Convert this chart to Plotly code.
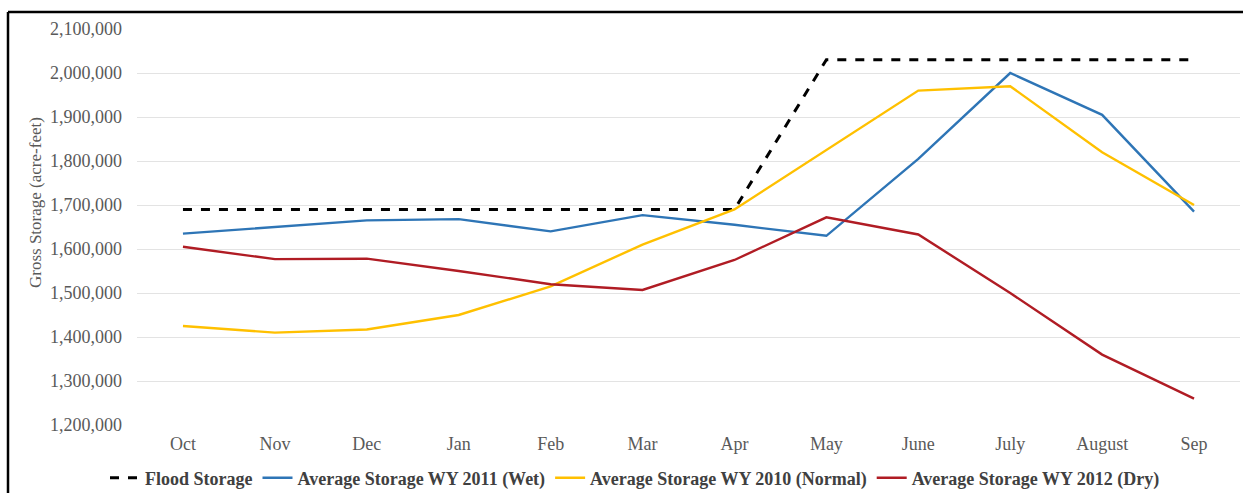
import plotly.graph_objects as go

months = ["Oct", "Nov", "Dec", "Jan", "Feb", "Mar", "Apr", "May", "June", "July", "August", "Sep"]
flood = [1690000, 1690000, 1690000, 1690000, 1690000, 1690000, 1690000,
         2030000, 2030000, 2030000, 2030000, 2030000]
wet_2011 = [1635000, 1650000, 1665000, 1668000, 1640000, 1677000, 1655000,
            1630000, 1805000, 2000000, 1905000, 1685000]
normal_2010 = [1425000, 1410000, 1417000, 1450000, 1515000, 1610000, 1690000,
               1825000, 1960000, 1970000, 1820000, 1700000]
dry_2012 = [1605000, 1577000, 1578000, 1550000, 1520000, 1507000, 1575000,
            1672000, 1633000, 1500000, 1360000, 1260000]
y_ticks = list(range(1200000, 2100001, 100000))

fig = go.Figure()
fig.add_trace(go.Scatter(x=months, y=flood, mode="lines", name="Flood Storage",
                         line=dict(color="#000000", width=3, dash="dash")))
fig.add_trace(go.Scatter(x=months, y=wet_2011, mode="lines", name="Average Storage WY 2011 (Wet)",
                         line=dict(color="#2E75B6", width=2.4)))
fig.add_trace(go.Scatter(x=months, y=normal_2010, mode="lines", name="Average Storage WY 2010 (Normal)",
                         line=dict(color="#FFC000", width=2.4)))
fig.add_trace(go.Scatter(x=months, y=dry_2012, mode="lines", name="Average Storage WY 2012 (Dry)",
                         line=dict(color="#B01C24", width=2.4)))

W, H = 1243, 493
ml, mr, mt, mb = 137, 3, 29, 68
pw = W - ml - mr
ph = H - mt - mb
bx = (8 - ml) / pw
by = 1 + (mt - 12) / ph
ybot = -(mb + 5) / ph
fig.add_shape(type="line", xref="paper", yref="paper", x0=bx, x1=1 + mr / pw + 0.01, y0=by, y1=by,
              line=dict(color="black", width=2.5))
fig.add_shape(type="line", xref="paper", yref="paper", x0=bx, x1=bx, y0=by, y1=ybot,
              line=dict(color="black", width=2.5))

# y-axis title placed as rotated annotation (matches reference position)
fig.add_annotation(text="Gross Storage (acre-feet)", textangle=-90, showarrow=False,
                   xref="paper", yref="paper", x=(35 - ml) / pw, y=(H - mb - 202) / ph,
                   xanchor="center", yanchor="middle",
                   font=dict(family="Liberation Serif, Times New Roman, serif", size=17, color="#595959"))

fig.update_layout(
    width=W, height=H,
    margin=dict(l=ml, r=mr, t=mt, b=mb, autoexpand=False),
    paper_bgcolor="white", plot_bgcolor="white",
    font=dict(family="Liberation Serif, Times New Roman, serif", color="#595959", size=18),
    showlegend=True,
    legend=dict(orientation="h", x=(635 - ml) / pw, xanchor="center",
                y=-(478 - (H - mb)) / ph, yanchor="middle",
                font=dict(family="Liberation Serif, serif", size=18, color="#404040", weight="bold"),
                tracegroupgap=0),
    xaxis=dict(showgrid=False, showline=False, zeroline=False, ticks="",
               tickfont=dict(size=18, color="#595959"), range=[-0.5, 11.5],
               ticklabelstandoff=6),
    yaxis=dict(range=[1200000, 2100000], tickvals=y_ticks, tickformat=",d",
               showgrid=True, gridcolor="#E3E3E3", gridwidth=1, zeroline=False,
               showline=False, ticks="", ticklabelstandoff=14,
               tickfont=dict(size=18, color="#595959")),
)

fig.write_html("out.html", config={"displayModeBar": False},
               post_script="document.body.style.margin='0';document.body.style.padding='0';")
